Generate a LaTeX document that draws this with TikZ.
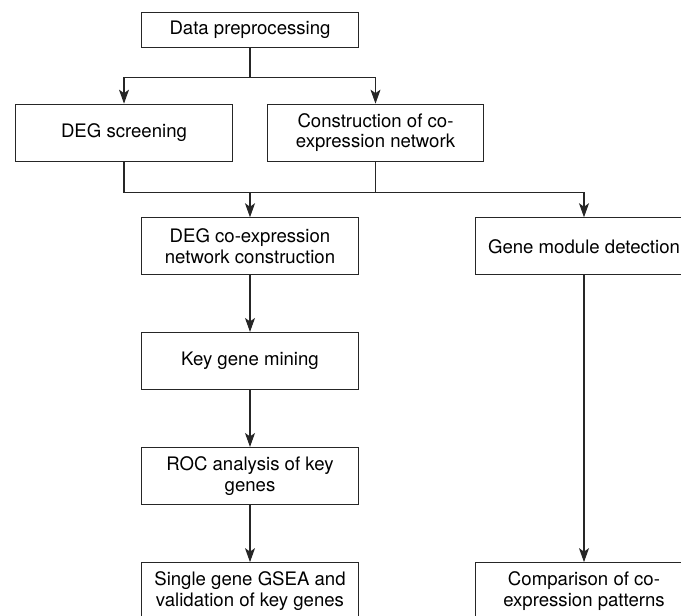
\documentclass[tikz,border=0pt]{standalone}
\usepackage{fontspec}
\setmainfont{TeX Gyre Heros}
\usepackage{tikz}
\usetikzlibrary{calc}
\usetikzlibrary{arrows.meta}
\usetikzlibrary{positioning}
\tikzset{>={Stealth[length = 14pt, width = 10pt, inset = 3.5pt]}}
\tikzstyle{stage} = [draw = black!85, line width = 1.1pt, minimum width = 216.6pt, minimum height = 57pt, inner sep = 1, align = center, font = \fontsize{18.6}{20.7}\selectfont]
\tikzstyle{link} = [draw = black!85, line width = 1.1pt]

\begin{document}
\begin{tikzpicture}[x = 1pt, y = -1pt]
\clip (0, 0) rectangle (681, 616);
\node [stage, minimum height = 35.4pt] (D) at (250, 30) {Data preprocessing};
\node [stage] (S) at (124, 132.7) {DEG screening};
\node [stage] (C) at (375.5, 132.7) {Construction of co-\\expression network};
\node [stage] (N) at (250, 246.3) {DEG co-expression\\network construction};
\node [stage] (M) at (584, 246.3) {Gene module detection};
\node [stage] (K) at (250, 361) {Key gene mining};
\node [stage] (R) at (250, 476) {ROC analysis of key\\genes};
\node [stage] (G) at (250, 591.2) {Single gene GSEA and\\validation of key genes};
\node [stage] (P) at (584, 591.2) {Comparison of co-\\expression patterns};
% junctions
\coordinate (J1) at (250, 77.7);
\coordinate (J2) at (124, 192.3);
\coordinate (J3) at (584, 192.3);
\draw [link] (D) -- (J1);
\draw [link, ->] (J1) -| (S);
\draw [link, ->] (J1) -| (C);
\draw [link] (S) -- (J2) -- (J3);
\draw [link] (C) -- (C |- J2);
\draw [link, ->] (N |- J2) -- (N);
\draw [link, ->] (J3) -- (M);
\draw [link, ->] (N) -- (K);
\draw [link, ->] (K) -- (R);
\draw [link, ->] (R) -- (G);
\draw [link, ->] (M) -- (P);
\end{tikzpicture}
\end{document}
